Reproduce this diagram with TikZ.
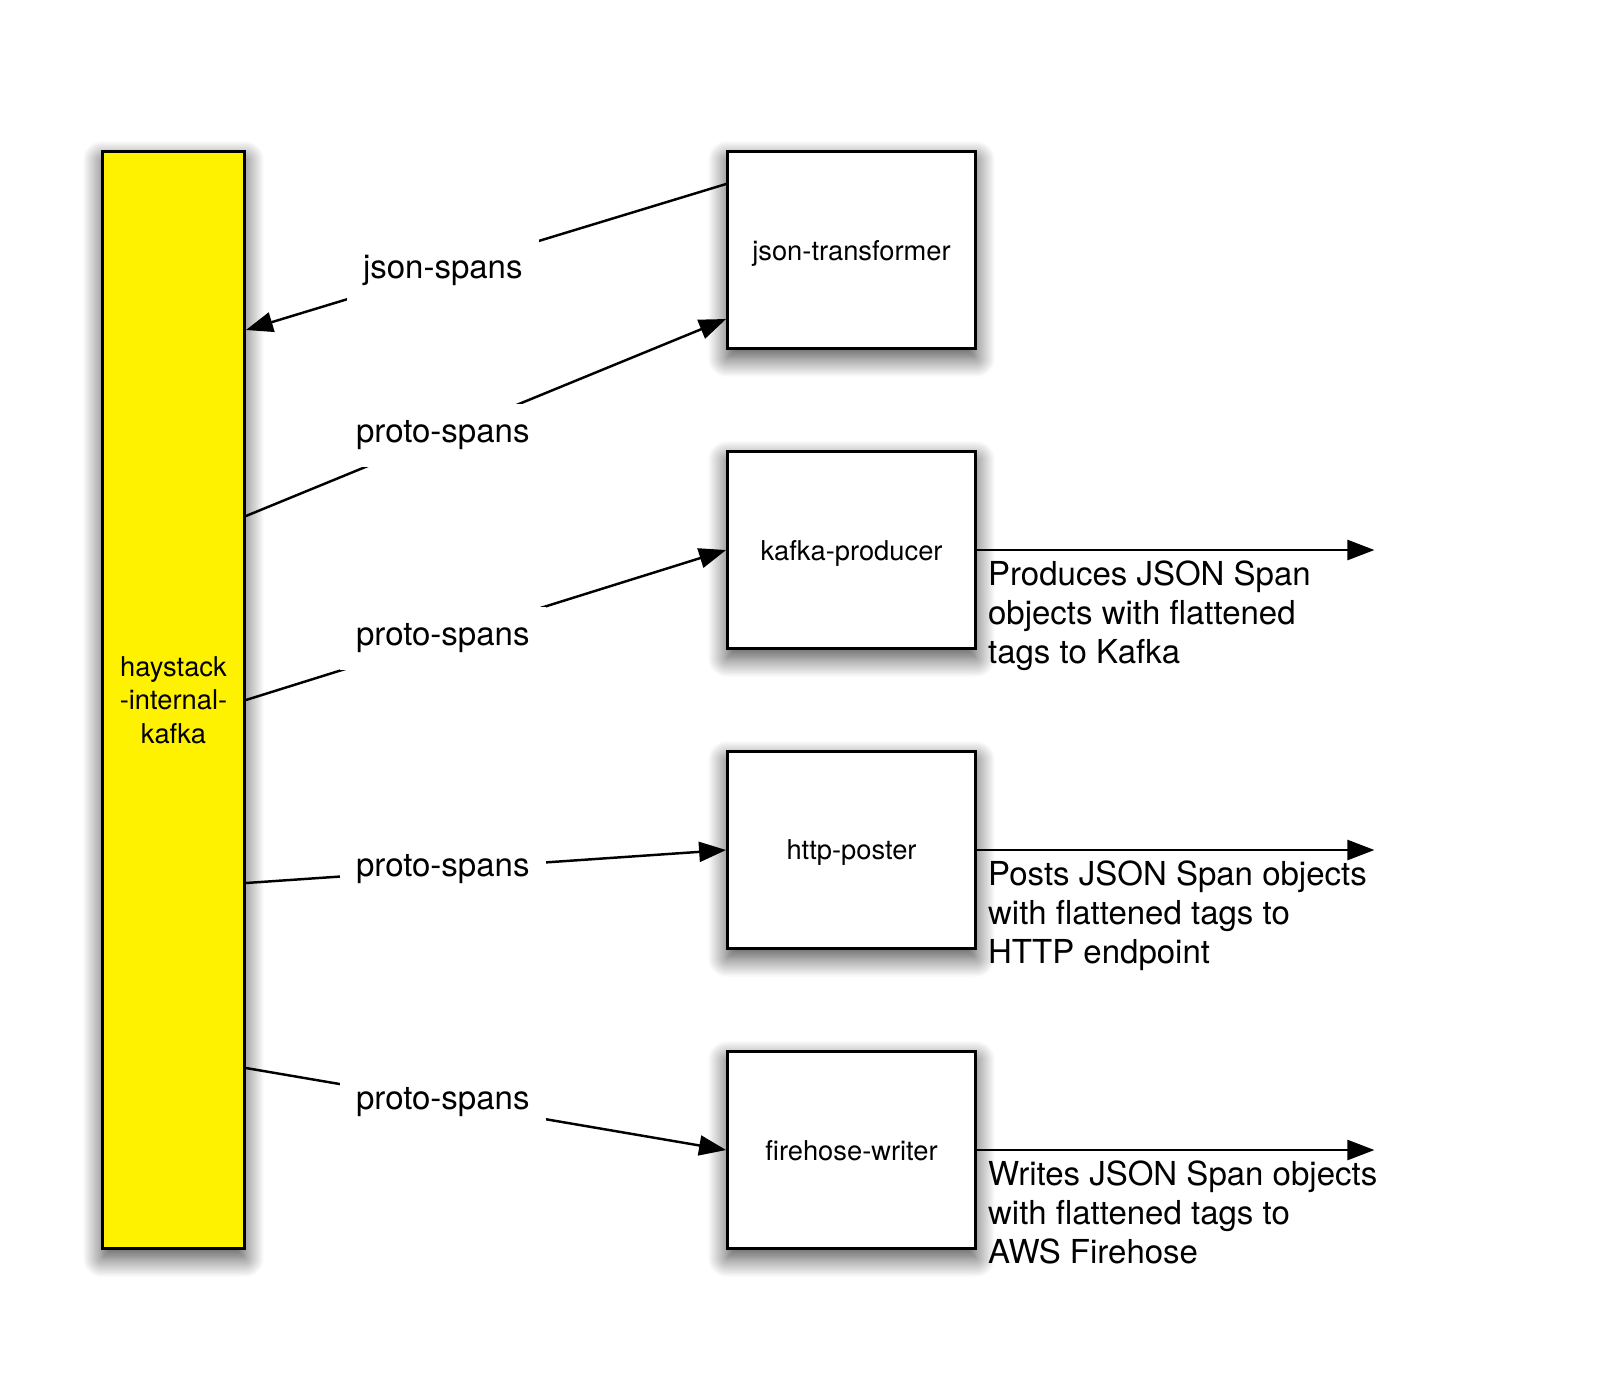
\documentclass[tikz,border=0pt]{standalone}
\usepackage{fontspec}
\setmainfont{TeX Gyre Heros}
\usetikzlibrary{arrows.meta,shadows.blur}

\tikzset{
  box/.style={draw, line width=0.8pt, fill=white, minimum width=2.48cm, minimum height=1.97cm, inner sep=0pt,
    font=\fontsize{7.77}{9.4}\selectfont, text depth=0pt,
    blur shadow={shadow xshift=0cm, shadow yshift=-0.09cm, shadow blur radius=0.2cm, shadow blur steps=20, shadow opacity=75}},
  topic/.style={box, fill=yellow, minimum width=1.42cm, minimum height=10.97cm, align=center},
  flow/.style={draw, line width=0.7pt, ->},
  tag/.style={fill=white, inner xsep=0.16cm, inner ysep=0.17cm, font=\fontsize{9.39}{11.1}\selectfont},
  note/.style={anchor=north west, inner sep=0pt, align=left, font=\fontsize{9.39}{11.1}\selectfont}
}

\begin{document}
\begin{tikzpicture}[>={Triangle[length=0.27cm, width=0.2cm]}]
        \useasboundingbox (0,0) rectangle (15.99,-13.99);
        % kafka topic and the apps
        \node [topic] (internal) at (1.735,-7) {haystack\\-internal-\\kafka};
        \node [box] (jsontrans) at (8.515,-2.5) {json-transformer};
        \node [box] (kproducer) at (8.515,-5.5) {kafka-producer};
        \node [box] (hposter) at (8.515,-8.5) {http-poster};
        \node [box] (fwriter) at (8.515,-11.5) {firehose-writer};
        % spans in and out of the topic
        \draw [flow] ([yshift=0.66cm]jsontrans.west) -- node [tag, pos=0.59] {json-spans} ([yshift=3.70cm]internal.east);
        \draw [flow] ([yshift=1.84cm]internal.east) -- node [tag, pos=0.41] {proto-spans} ([yshift=-0.69cm]jsontrans.west);
        \draw [flow] (internal.east) -- node [tag, pos=0.41] {proto-spans} (kproducer.west);
        \draw [flow] ([yshift=-1.83cm]internal.east) -- node [tag, pos=0.41] {proto-spans} (hposter.west);
        \draw [flow] ([yshift=-3.68cm]internal.east) -- node [tag, pos=0.41] {proto-spans} (fwriter.west);
        % outputs
        \draw [flow] (kproducer.east) -- ++(3.975,0);
        \draw [flow] (hposter.east) -- ++(3.975,0);
        \draw [flow] (fwriter.east) -- ++(3.975,0);
        \node [note] (knote) at ([xshift=0.105cm, yshift=-0.10cm]kproducer.east) {Produces JSON Span\\objects with flattened\\tags to Kafka};
        \node [note] (hnote) at ([xshift=0.105cm, yshift=-0.10cm]hposter.east) {Posts JSON Span objects\\with flattened tags to\\HTTP endpoint};
        \node [note] (fnote) at ([xshift=0.105cm, yshift=-0.10cm]fwriter.east) {Writes JSON Span objects\\with flattened tags to\\AWS Firehose};
\end{tikzpicture}
\end{document}
